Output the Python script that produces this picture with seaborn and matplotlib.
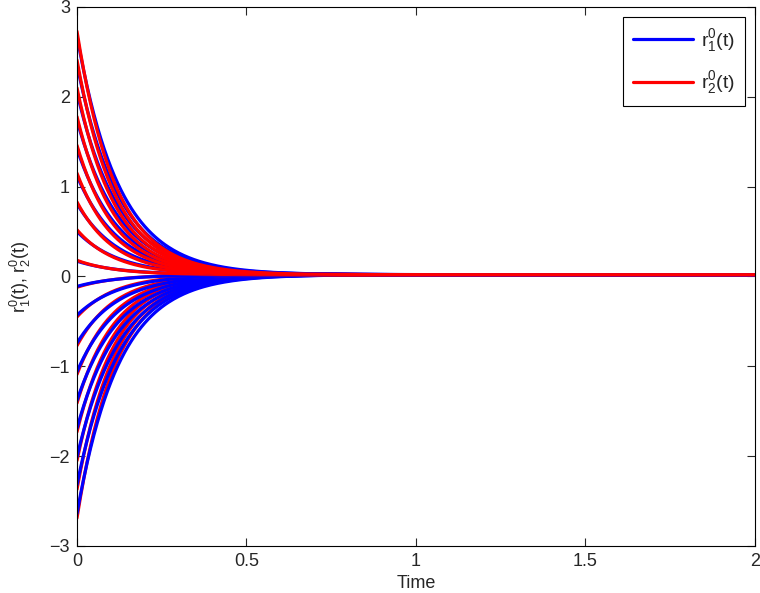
import numpy as np
import pandas as pd
import matplotlib
matplotlib.use("Agg")
import matplotlib.pyplot as plt
import seaborn as sns

pos_starts_r1 = [2.68, 2.36, 2.05, 1.74, 1.42, 1.12, 0.81, 0.50, 0.17]
pos_starts_r2 = [2.73, 2.41, 2.10, 1.78, 1.46, 1.15, 0.83, 0.52, 0.18]
neg_starts_r1 = [-0.11, -0.43, -0.74, -1.06, -1.38, -1.69, -2.01, -2.32, -2.64]
neg_starts_r2 = [-0.12, -0.45, -0.77, -1.09, -1.41, -1.73, -2.05, -2.37, -2.69]

# decay rates and settling value estimated from the curves
rate_r1 = 8.0
rate_r2 = 8.8
settle = 0.02

t = np.linspace(0, 2, 401)


def decay(r0, k):
    return settle + (r0 - settle) * np.exp(-k * t)


sns.set_style("ticks")
plt.rcParams['font.family'] = ['Liberation Sans', 'DejaVu Sans']
plt.rcParams['mathtext.default'] = 'regular'
plt.rcParams['xtick.direction'] = 'in'
plt.rcParams['ytick.direction'] = 'in'

fig = plt.figure(figsize=(7.6, 5.93), dpi=100)
ax = fig.add_axes([0.1013, 0.0793, 0.8921, 0.9089])

blue = '#0000ff'
red = '#ff0000'
lw = 2.3

# negative runs: blue ends up on top
for a, b in list(zip(neg_starts_r1, neg_starts_r2))[::-1]:
    df = pd.DataFrame({'t': t, 'r1': decay(a, rate_r1), 'r2': decay(b, rate_r2)})
    sns.lineplot(data=df, x='t', y='r2', color=red, lw=lw, ax=ax, legend=False)
    sns.lineplot(data=df, x='t', y='r1', color=blue, lw=lw, ax=ax, legend=False)

# positive runs: red ends up on top
for a, b in list(zip(pos_starts_r1, pos_starts_r2))[::-1]:
    df = pd.DataFrame({'t': t, 'r1': decay(a, rate_r1), 'r2': decay(b, rate_r2)})
    sns.lineplot(data=df, x='t', y='r1', color=blue, lw=lw, ax=ax, legend=False)
    sns.lineplot(data=df, x='t', y='r2', color=red, lw=lw, ax=ax, legend=False)

ax.set_xlim(0, 2)
ax.set_ylim(-3, 3)
ax.set_xticks([0, 0.5, 1, 1.5, 2])
ax.set_xticklabels(['0', '0.5', '1', '1.5', '2'])
ax.set_yticks(range(-3, 4))
ax.tick_params(top=True, right=True, labelsize=13, length=6, width=0.8, pad=5)
for s in ax.spines.values():
    s.set_linewidth(0.8)
    s.set_color('black')

ax.set_xlabel('Time', fontsize=13, labelpad=4)
ax.set_ylabel(r'$r_1^0(t)$, $r_2^0(t)$', fontsize=13, labelpad=12)

handles = [plt.Line2D([], [], color=blue, lw=lw), plt.Line2D([], [], color=red, lw=lw)]
leg = ax.legend(handles, [r'$r_1^0(t)$', r'$r_2^0(t)$'], loc='upper right',
                fontsize=14, frameon=True, fancybox=False, edgecolor='black',
                framealpha=1, handlelength=3.1, handletextpad=0.4,
                labelspacing=0.8, borderpad=0.5, borderaxespad=0,
                bbox_to_anchor=(0.985, 0.981))
leg.get_frame().set_linewidth(0.8)

fig.savefig('out.png', dpi=100)
